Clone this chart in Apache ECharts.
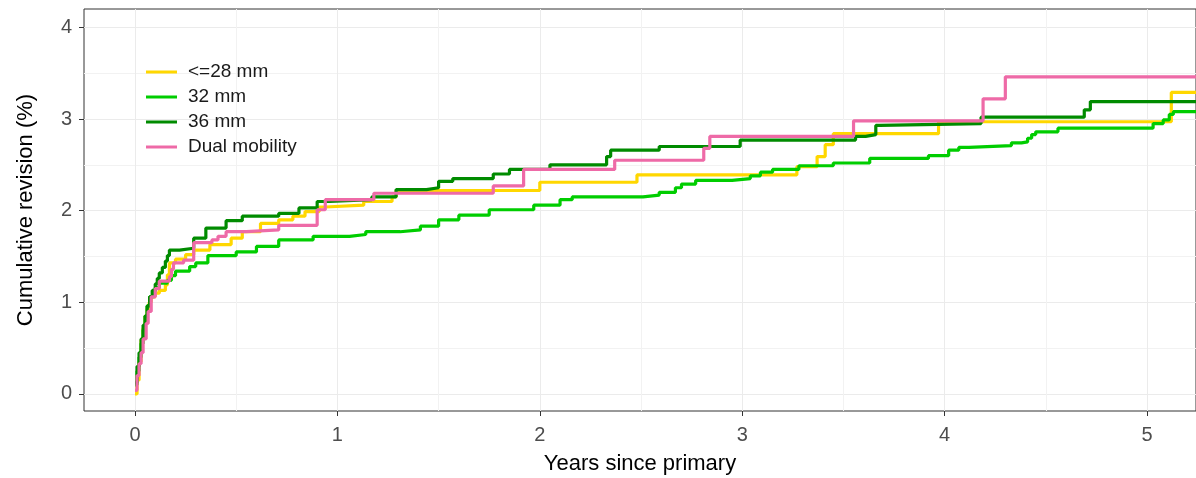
<!DOCTYPE html>
<html>
<head>
<meta charset="utf-8">
<script src="https://cdn.jsdelivr.net/npm/echarts@6/dist/echarts.min.js"></script>
<style>
html,body{margin:0;padding:0;background:#fff;}
#chart{width:1196px;height:478px;}
</style>
</head>
<body>
<div id="chart"></div>
<script>
// Series names
const seriesNames = ['<=28 mm', '32 mm', '36 mm', 'Dual mobility'];
// Tick values
const xTicks = [0, 1, 2, 3, 4, 5];
const xMinorTicks = [0.5, 1.5, 2.5, 3.5, 4.5];
const yTicks = [0, 1, 2, 3, 4];
const yMinorTicks = [0.5, 1.5, 2.5, 3.5];

// Step data: [years since primary, cumulative revision %] (value after the step)
const mm28 = [[0,0],[0.01,0.15],[0.02,0.35],[0.03,0.59],[0.04,0.72],[0.05,0.85],[0.06,0.93],[0.07,1.0],[0.08,1.06],[0.1,1.1],[0.12,1.13],[0.15,1.19],[0.16,1.3],[0.17,1.43],[0.2,1.47],[0.25,1.52],[0.29,1.57],[0.37,1.63],[0.475,1.70],[0.53,1.77],[0.62,1.86],[0.71,1.90],[0.78,1.94],[0.84,1.99],[0.91,2.04],[0.94,2.06],[1.13,2.10],[1.27,2.15],[1.29,2.22],[2.0,2.31],[2.48,2.39],[3.27,2.48],[3.37,2.59],[3.41,2.72],[3.45,2.84],[3.97,2.97],[5.12,3.29],[5.3,3.29]];
const mm32 = [[0,0.1],[0.01,0.25],[0.02,0.4],[0.03,0.55],[0.04,0.7],[0.05,0.85],[0.06,0.96],[0.072,1.06],[0.09,1.12],[0.1,1.16],[0.12,1.21],[0.16,1.24],[0.18,1.29],[0.2,1.34],[0.27,1.39],[0.3,1.43],[0.36,1.51],[0.5,1.55],[0.6,1.61],[0.71,1.68],[0.88,1.72],[1.06,1.74],[1.14,1.77],[1.31,1.79],[1.41,1.83],[1.5,1.9],[1.6,1.95],[1.75,2.01],[1.97,2.06],[2.1,2.12],[2.16,2.15],[2.51,2.17],[2.59,2.2],[2.67,2.25],[2.7,2.29],[2.77,2.33],[2.95,2.35],[3.04,2.38],[3.09,2.42],[3.15,2.45],[3.28,2.49],[3.45,2.52],[3.63,2.57],[3.92,2.6],[4.02,2.66],[4.07,2.69],[4.12,2.71],[4.33,2.74],[4.38,2.75],[4.41,2.79],[4.43,2.83],[4.45,2.86],[4.56,2.9],[5.03,2.95],[5.08,2.99],[5.11,3.05],[5.13,3.08],[5.3,3.08]];
const mm36 = [[0,0.12],[0.01,0.3],[0.02,0.45],[0.03,0.6],[0.04,0.75],[0.05,0.85],[0.06,0.96],[0.072,1.06],[0.085,1.13],[0.1,1.2],[0.11,1.26],[0.12,1.32],[0.135,1.38],[0.15,1.45],[0.16,1.51],[0.17,1.57],[0.22,1.59],[0.29,1.7],[0.35,1.81],[0.45,1.89],[0.53,1.94],[0.71,1.97],[0.81,2.03],[0.9,2.1],[0.96,2.12],[1.17,2.15],[1.29,2.23],[1.44,2.25],[1.5,2.32],[1.57,2.35],[1.77,2.40],[1.85,2.45],[2.05,2.5],[2.33,2.59],[2.35,2.66],[2.59,2.7],[2.99,2.77],[3.56,2.81],[3.61,2.83],[3.66,2.93],[3.68,2.95],[4.18,3.02],[4.69,3.1],[4.72,3.19],[5.3,3.19]];
const dualMobility = [[0,0.04],[0.01,0.2],[0.02,0.33],[0.03,0.45],[0.04,0.6],[0.055,0.77],[0.065,0.9],[0.08,1.06],[0.1,1.15],[0.12,1.23],[0.17,1.28],[0.18,1.36],[0.19,1.43],[0.24,1.46],[0.29,1.65],[0.38,1.68],[0.41,1.72],[0.45,1.77],[0.55,1.79],[0.71,1.84],[0.9,2.01],[0.94,2.12],[1.18,2.19],[1.77,2.27],[1.92,2.45],[2.37,2.55],[2.81,2.68],[2.84,2.81],[3.55,2.98],[4.19,3.22],[4.30,3.46],[5.3,3.46]];

const seriesData = [mm28, mm32, mm36, dualMobility];
const colors = ['#FFD700', '#00CD00', '#008B00', '#EE6AA7'];

const X_MIN = -0.252, X_MAX = 5.242;
const Y_MIN = -0.186, Y_MAX = 4.2;

const font = 'Liberation Sans, Arial, sans-serif';

const chart = echarts.init(document.getElementById('chart'), null, {renderer: 'canvas'});
const option = {
  animation: false,
  backgroundColor: '#fff',
  grid: {
    left: 84, right: 0, top: 9, bottom: 67,
    show: true, borderColor: '#333333', borderWidth: 1, backgroundColor: 'transparent',
    containLabel: false,
    outerBoundsMode: 'none'
  },
  legend: {
    orient: 'vertical',
    left: 141, top: 57,
    itemWidth: 31, itemHeight: 3, itemGap: 5,
    icon: 'rect',
    data: seriesNames,
    textStyle: {fontFamily: font, fontSize: 19, color: '#1a1a1a', lineHeight: 20, padding: [0, 0, 0, 6]}
  },
  xAxis: [{
    type: 'value', min: X_MIN, max: X_MAX, gridIndex: 0, position: 'bottom',
    name: 'Years since primary', nameLocation: 'middle', nameGap: 42,
    nameTextStyle: {fontFamily: font, fontSize: 22, color: '#000'},
    axisLine: {show: false, onZero: false},
    axisTick: {show: true, length: 5, lineStyle: {color: '#333333'}, customValues: xTicks},
    axisLabel: {show: true, customValues: xTicks, margin: 14, fontFamily: font, fontSize: 20, color: '#4D4D4D'},
    splitLine: {show: true, lineStyle: {color: '#EBEBEB', width: 1}}
  }, {
    type: 'value', min: X_MIN, max: X_MAX, gridIndex: 0, position: 'bottom',
    axisLine: {show: false, onZero: false},
    axisTick: {show: false, customValues: xMinorTicks},
    axisLabel: {show: false},
    splitLine: {show: true, lineStyle: {color: '#F2F2F2', width: 1}}
  }],
  yAxis: [{
    type: 'value', min: Y_MIN, max: Y_MAX, gridIndex: 0, position: 'left',
    name: 'Cumulative revision (%)', nameLocation: 'middle', nameGap: 47,
    nameTextStyle: {fontFamily: font, fontSize: 22, color: '#000'},
    axisLine: {show: false, onZero: false},
    axisTick: {show: true, length: 5, lineStyle: {color: '#333333'}, customValues: yTicks},
    axisLabel: {show: true, customValues: yTicks, margin: 12, fontFamily: font, fontSize: 20, color: '#4D4D4D'},
    splitLine: {show: true, lineStyle: {color: '#EBEBEB', width: 1}}
  }, {
    type: 'value', min: Y_MIN, max: Y_MAX, gridIndex: 0, position: 'left',
    axisLine: {show: false, onZero: false},
    axisTick: {show: false, customValues: yMinorTicks},
    axisLabel: {show: false},
    splitLine: {show: true, lineStyle: {color: '#F2F2F2', width: 1}}
  }],
  series: seriesNames.map((name, i) => ({
    name: name,
    type: 'line',
    step: 'end',
    xAxisIndex: 0, yAxisIndex: 0,
    data: seriesData[i],
    showSymbol: false,
    symbol: 'none',
    color: colors[i],
    lineStyle: {color: colors[i], width: 3.2},
    itemStyle: {color: colors[i]},
    clip: true,
    z: 2 + i
  }))
};
chart.setOption(option);
</script>
</body>
</html>
